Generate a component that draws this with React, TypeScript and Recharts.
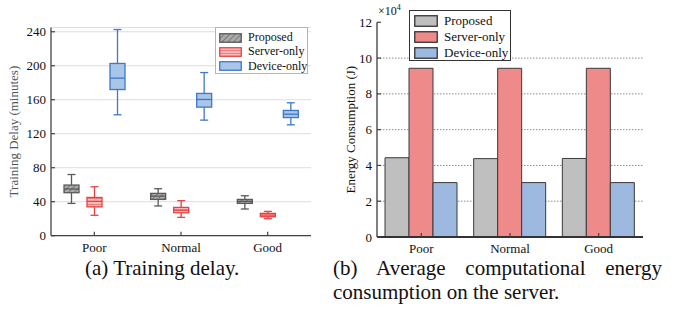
import React from 'react';
import { ComposedChart, BarChart, Bar, XAxis, YAxis, CartesianGrid } from 'recharts';

const categories = ['Poor', 'Normal', 'Good'];

// box stats per category: [min, q1, median, q3, max], minutes
const proposedDelay = [
  [38, 50.6, 55, 59.6, 72],
  [35, 42.7, 46.6, 49.8, 55.3],
  [31.4, 38, 40.4, 42.7, 47],
];
const serverDelay = [
  [24, 34, 40.4, 45, 57.6],
  [21.6, 27, 30.2, 33.3, 41.2],
  [20, 22.3, 24.3, 26.3, 28.6],
];
const deviceDelay = [
  [142.3, 172, 185.4, 202.7, 242.6],
  [136, 151.3, 160.3, 167.4, 192],
  [130.5, 139, 143, 147.4, 156.4],
];
const delayTicks = [0, 40, 80, 120, 160, 200, 240];

// energy in J
const proposedEnergy = [44300, 43800, 43900];
const serverEnergy = [94300, 94300, 94300];
const deviceEnergy = [30400, 30400, 30400];
const energyTicks = [0, 20000, 40000, 60000, 80000, 100000, 120000];
const energyGrid = [20000, 40000, 60000, 80000, 100000];

const FONT = "'Liberation Serif', 'Times New Roman', serif";

const delayData = categories.map((name, i) => ({
  name,
  proposed: [proposedDelay[i][0], proposedDelay[i][4]],
  server: [serverDelay[i][0], serverDelay[i][4]],
  device: [deviceDelay[i][0], deviceDelay[i][4]],
  proposedStats: proposedDelay[i],
  serverStats: serverDelay[i],
  deviceStats: deviceDelay[i],
}));

const energyData = categories.map((name, i) => ({
  name,
  proposed: proposedEnergy[i],
  server: serverEnergy[i],
  device: deviceEnergy[i],
}));

const series = {
  proposed: { stroke: '#5a5a5a', fill: 'url(#hatchGray)' },
  server: { stroke: '#ea4040', fill: 'url(#stripeRed)' },
  device: { stroke: '#3f78c8', fill: '#a9c5e8' },
};

function BoxShape(props: any) {
  const { x, y, width, height, payload, statsKey, stroke, fill } = props;
  const s: number[] = payload[statsKey];
  const top = Math.min(y, y + height);
  const h = Math.abs(height);
  const py = (v: number) => top + (h * (s[4] - v)) / (s[4] - s[0]);
  const cx = x + width / 2;
  const bw = 15;
  const cw = 8;
  return (
    <g stroke={stroke} strokeWidth={1.3}>
      <line x1={cx} x2={cx} y1={py(s[4])} y2={py(s[3])} />
      <line x1={cx} x2={cx} y1={py(s[1])} y2={py(s[0])} />
      <line x1={cx - cw / 2} x2={cx + cw / 2} y1={py(s[4])} y2={py(s[4])} />
      <line x1={cx - cw / 2} x2={cx + cw / 2} y1={py(s[0])} y2={py(s[0])} />
      <rect x={cx - bw / 2} y={py(s[3])} width={bw} height={py(s[1]) - py(s[3])} fill={fill} />
      <line x1={cx - bw / 2} x2={cx + bw / 2} y1={py(s[2])} y2={py(s[2])} />
    </g>
  );
}

const YTick = ({ x, y, payload, fmt }: any) => (
  <g>
    <line x1={x + 5} x2={x + 9} y1={y} y2={y} stroke="#444" strokeWidth={1.2} />
    <text x={x} y={y} dy="0.35em" textAnchor="end" fontSize={13} fontFamily={FONT} fill="#111">
      {fmt ? fmt(payload.value) : payload.value}
    </text>
  </g>
);

const XTick = ({ x, y, payload }: any) => (
  <g>
    <line x1={x} x2={x} y1={y - 7} y2={y - 11} stroke="#444" strokeWidth={1.2} />
    <text x={x} y={y} dy="0.71em" textAnchor="middle" fontSize={13} fontFamily={FONT} fill="#111">
      {payload.value}
    </text>
  </g>
);

function Patterns({ suffix = '' }: { suffix?: string }) {
  return (
    <defs>
      <pattern id={'hatchGray' + suffix} width={4} height={4} patternUnits="userSpaceOnUse" patternTransform="rotate(45)">
        <rect width={4} height={4} fill="#ababab" />
        <line x1={0} y1={0} x2={0} y2={4} stroke="#6e6e6e" strokeWidth={1.6} />
      </pattern>
      <pattern id={'stripeRed' + suffix} width={3} height={3} patternUnits="userSpaceOnUse">
        <rect width={3} height={3} fill="#f9bcbc" />
        <line x1={0} y1={0.5} x2={3} y2={0.5} stroke="#ef7f7f" strokeWidth={1} />
      </pattern>
    </defs>
  );
}

function Swatch({ w, h, fill, stroke }: any) {
  return (
    <svg width={w} height={h} style={{ display: 'block', flex: 'none' }}>
      <Patterns suffix="L" />
      <rect x={0.75} y={0.75} width={w - 1.5} height={h - 1.5} fill={fill} stroke={stroke} strokeWidth={1.3} />
    </svg>
  );
}

export default function App() {
  return (
    <div style={{ position: 'absolute', left: 0, top: 0, width: 678, height: 311, background: '#fff', fontFamily: FONT }}>
      {/* (a) training delay */}
      <div style={{ position: 'absolute', left: 0, top: 0 }}>
        <ComposedChart width={330} height={262} data={delayData} margin={{ top: 27.5, right: 19, left: 0, bottom: 0 }} barGap={0} barSize={23}>
          <Patterns />
          <CartesianGrid horizontal vertical={false} stroke="#dedede" />
          <XAxis dataKey="name" height={26.3} tickSize={0} tickMargin={7} tick={<XTick />} axisLine={{ stroke: '#444', strokeWidth: 1.3 }} tickLine={false} />
          <YAxis
            width={51}
            domain={[0, 245]}
            ticks={delayTicks}
            tickSize={0}
            tickMargin={5}
            tick={<YTick />}
            tickLine={false}
            axisLine={{ stroke: '#444', strokeWidth: 1.3 }}
            label={{ value: 'Training Delay (minutes)', angle: -90, position: 'insideLeft', offset: 13, style: { textAnchor: 'middle', fontSize: 13, fontFamily: FONT, fill: '#555' } }}
          />
          {(['proposed', 'server', 'device'] as const).map((k) => (
            <Bar
              key={k}
              dataKey={k}
              isAnimationActive={false}
              shape={(p: any) => <BoxShape {...p} statsKey={k + 'Stats'} stroke={series[k].stroke} fill={series[k].fill} />}
            />
          ))}
        </ComposedChart>
      </div>
      <div style={{ position: 'absolute', left: 215, top: 27, width: 93, height: 47, border: '1px solid #b5b5b5', background: '#fff', boxSizing: 'border-box' }}>
        {(
          [
            ['Proposed', 'url(#hatchGrayL)', '#5a5a5a'],
            ['Server-only', 'url(#stripeRedL)', '#ea4040'],
            ['Device-only', '#a9c5e8', '#3f78c8'],
          ] as const
        ).map(([label, fill, stroke], i) => (
          <div key={label} style={{ position: 'absolute', left: 3, top: 4 + i * 14.4, display: 'flex', alignItems: 'center', height: 11, whiteSpace: 'nowrap' }}>
            <Swatch w={23} h={10} fill={fill} stroke={stroke} />
            <span style={{ marginLeft: 6, fontSize: 12, color: '#111', lineHeight: '11px', whiteSpace: 'nowrap' }}>{label}</span>
          </div>
        ))}
      </div>

      {/* (b) energy */}
      <div style={{ position: 'absolute', left: 330, top: 0 }}>
        <BarChart width={330} height={263} data={energyData} margin={{ top: 22.3, right: 17, left: 0, bottom: 0 }} barGap={0} barSize={24}>
          <CartesianGrid horizontalValues={energyGrid} vertical={false} stroke="#8a8a8a" strokeDasharray="1.5 1.5" />
          <XAxis dataKey="name" height={26} tickSize={0} tickMargin={7} tick={<XTick />} tickLine={false} axisLine={{ stroke: '#333', strokeWidth: 2 }} />
          <YAxis
            width={47}
            domain={[0, 120000]}
            ticks={energyTicks}
            tickSize={0}
            tickMargin={5}
            tick={<YTick fmt={(v: number) => v / 10000} />}
            tickLine={false}
            axisLine={{ stroke: '#555', strokeWidth: 1.5 }}
            label={{ value: 'Energy Consumption (J)', angle: -90, position: 'insideLeft', offset: 20, style: { textAnchor: 'middle', fontSize: 13, fontFamily: FONT, fill: '#111' } }}
          />
          <Bar dataKey="proposed" fill="#bfbfbf" stroke="#3a3a3a" strokeWidth={1} isAnimationActive={false} />
          <Bar dataKey="server" fill="#ee8a8a" stroke="#3a3a3a" strokeWidth={1} isAnimationActive={false} />
          <Bar dataKey="device" fill="#9db9e0" stroke="#3a3a3a" strokeWidth={1} isAnimationActive={false} />
        </BarChart>
      </div>
      <div style={{ position: 'absolute', left: 378, top: 3, fontSize: 12, color: '#111' }}>
        ×10<sup style={{ fontSize: 8 }}>4</sup>
      </div>
      <div style={{ position: 'absolute', left: 409, top: 10, width: 102, height: 51, border: '1px solid #333', background: '#fff', boxSizing: 'border-box' }}>
        {(
          [
            ['Proposed', '#bfbfbf'],
            ['Server-only', '#ee8a8a'],
            ['Device-only', '#9db9e0'],
          ] as const
        ).map(([label, fill], i) => (
          <div key={label} style={{ position: 'absolute', left: 4, top: 3.5 + i * 16.3, display: 'flex', alignItems: 'center', height: 12, whiteSpace: 'nowrap' }}>
            <Swatch w={24} h={12} fill={fill} stroke="#333" />
            <span style={{ marginLeft: 6, fontSize: 13, color: '#111', lineHeight: '12px', whiteSpace: 'nowrap' }}>{label}</span>
          </div>
        ))}
      </div>

      {/* captions */}
      <div style={{ position: 'absolute', left: 85, top: 256, fontSize: 21, lineHeight: '24px', color: '#111', whiteSpace: 'nowrap' }}>
        (a) Training delay.
      </div>
      <div style={{ position: 'absolute', left: 333, top: 256, width: 329, fontSize: 21, lineHeight: '24px', color: '#111', textAlign: 'justify', textAlignLast: 'justify' }}>
        (b) Average computational energy
      </div>
      <div style={{ position: 'absolute', left: 333, top: 280, fontSize: 21, lineHeight: '24px', color: '#111', whiteSpace: 'nowrap' }}>
        consumption on the server.
      </div>
    </div>
  );
}
